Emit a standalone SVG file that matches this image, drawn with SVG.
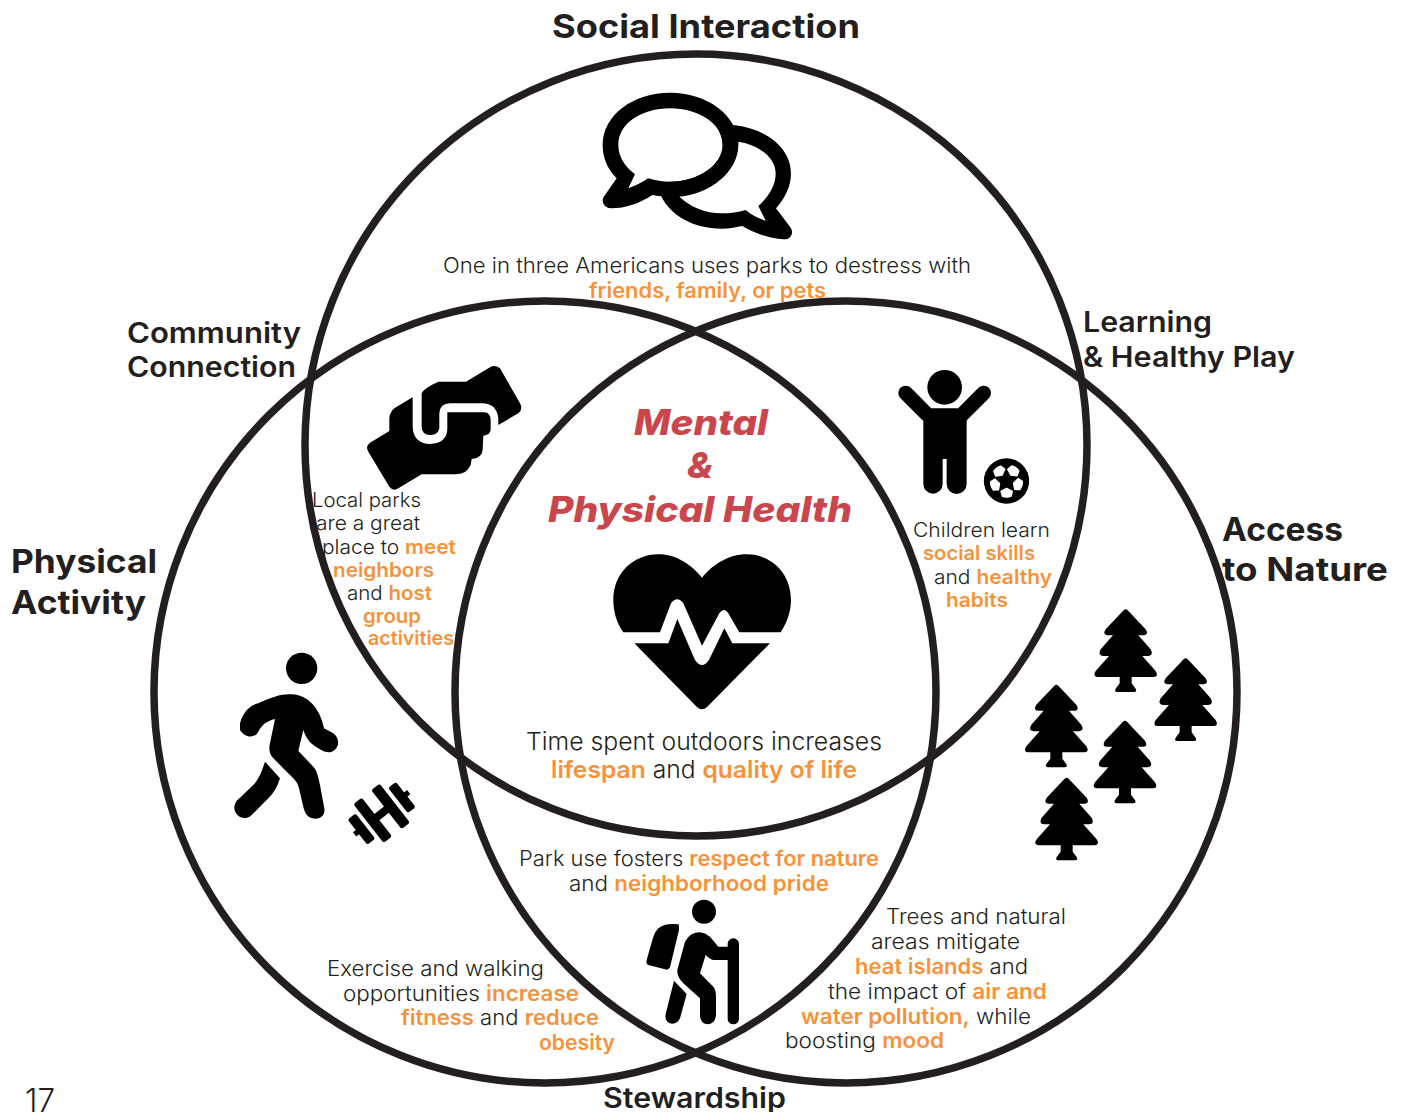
<svg xmlns="http://www.w3.org/2000/svg" width="1407" height="1112" viewBox="0 0 1407 1112">
<style>
text{font-family:"Inter","Liberation Sans",sans-serif;fill:#231f20;white-space:pre}
.b{font-size:20px;font-weight:300}
.m{font-size:21px;font-weight:300}
.c{font-size:24px;font-weight:300}
.t1{font-size:33px;font-weight:700}
.t2{font-size:28px;font-weight:600}
.o{fill:#f7923a;font-weight:600}
.h{font-size:35px;font-weight:800;font-style:italic;fill:#c9474c}
circle.ring{fill:none;stroke:#231f20;stroke-width:7.5}
.k{fill:#000}
.w{fill:#fff}
</style>
<defs>
<path id="tree" d="M-6,3Q0,-3 6,3L60,60Q70,76 55,78L38,78L75,120Q85,138 68,140L50,140L90,185Q100,201 85,203L18,203L18,222L30,238Q35,248 25,248L-25,248Q-35,248 -30,238L-18,222L-18,203L-85,203Q-100,201 -90,185L-50,140L-68,140Q-85,138 -75,120L-38,78L-55,78Q-70,76 -60,60Z"/>
<path id="panel" d="M-13,-46Q0,-51 13,-46L17,-31L0,-22L-17,-31Z" fill="#fff" stroke="#fff" stroke-width="4" stroke-linejoin="round"/>
</defs>
<rect width="1407" height="1112" fill="#fff"/>
<g id="connectors">
<circle class="ring" cx="696" cy="445" r="391"/>
<circle class="ring" cx="545" cy="692" r="391"/>
<circle class="ring" cx="846" cy="692" r="391"/>
</g>
<g id="social-interaction">
<text class="t1" x="552" y="38" textLength="308" lengthAdjust="spacingAndGlyphs">Social Interaction</text>
<g transform="translate(590,80) scale(.3333)">
<path class="k" d="M430,135C530,145 603,205 603,280C603,320 585,355 558,385L600,440C615,460 600,480 580,478C535,475 495,460 457,438C435,443 415,446 395,446C310,446 240,405 213,347L300,200Z"/>
<path class="w" d="M445,185C510,195 557,235 557,280C557,320 535,350 505,378L527,422C505,415 485,405 467,390C445,397 420,400 395,400C345,400 300,380 268,350C360,340 445,280 445,185Z"/>
<path class="w" d="M135,283C105,260 85,230 85,195C85,130 155,85 240,85C325,85 398,130 398,195C398,255 325,305 240,305C218,305 195,302 175,295C155,308 135,318 115,325Z"/>
<path class="k" fill-rule="evenodd" d="M80,295C50,265 38,230 38,195C38,105 130,38 240,38C350,38 445,105 445,195C445,280 350,350 240,350C222,350 205,348 187,345C150,370 105,385 65,385C40,385 30,360 45,345ZM135,283C105,260 85,230 85,195C85,130 155,85 240,85C325,85 398,130 398,195C398,255 325,305 240,305C218,305 195,302 175,295C155,308 135,318 115,325Z"/>
</g>
<text class="m" x="443" y="273" textLength="528" lengthAdjust="spacingAndGlyphs">One in three Americans uses parks to destress with</text>
<text class="m o" x="589" y="298" textLength="237" lengthAdjust="spacingAndGlyphs">friends, family, or pets</text>
</g>
<g id="community-connection">
<text class="t2" x="127" y="343" textLength="174" lengthAdjust="spacingAndGlyphs">Community</text>
<text class="t2" x="127" y="377" textLength="169" lengthAdjust="spacingAndGlyphs">Connection</text>
<g transform="translate(350,350) scale(.3333)">
<path class="k" d="M215,130Q220,115 265,95L348,95L420,52Q435,42 450,55L510,160Q520,178 505,190L445,225L445,205Q440,162 400,160L300,160Q270,160 268,190L268,235Q265,255 242,255Q215,255 215,230Z"/>
<path class="k" d="M188,142L188,230Q190,280 240,282Q292,280 292,235L292,187L405,187Q422,190 422,210L422,240Q420,255 400,257L398,300Q395,325 365,327L362,345Q350,372 320,373L215,373L145,415Q130,425 118,410L55,305Q45,290 60,278L118,243L118,205Q120,180 140,170Z"/>
</g>
<text class="b" x="312" y="507" textLength="109" lengthAdjust="spacingAndGlyphs">Local parks</text>
<text class="b" x="316" y="530" textLength="104" lengthAdjust="spacingAndGlyphs">are a great</text>
<text class="b" x="322" y="554" textLength="134" lengthAdjust="spacingAndGlyphs">place to <tspan class="o">meet</tspan></text>
<text class="b o" x="333" y="577" textLength="101" lengthAdjust="spacingAndGlyphs">neighbors</text>
<text class="b" x="347" y="600" textLength="85" lengthAdjust="spacingAndGlyphs">and <tspan class="o">host</tspan></text>
<text class="b o" x="363" y="623" textLength="58" lengthAdjust="spacingAndGlyphs">group</text>
<text class="b o" x="368" y="645" textLength="86" lengthAdjust="spacingAndGlyphs">activities</text>
</g>
<g id="learning-healthy-play">
<text class="t2" x="1083" y="332" textLength="129" lengthAdjust="spacingAndGlyphs">Learning</text>
<text class="t2" x="1083" y="367" textLength="212" lengthAdjust="spacingAndGlyphs">&amp; Healthy Play</text>
<g transform="translate(880,360) scale(.3333)">
<circle class="k" cx="194" cy="82" r="52"/>
<path d="M77,99L150,172M311,99L238,172" stroke="#000" stroke-width="44" stroke-linecap="round" fill="none"/>
<path class="k" d="M155,145L232,145L260,180L260,372A30,30 0 0 1 200,372L200,297L188,297L188,372A29,29 0 0 1 130,372L130,180Z"/>
</g>
<g transform="translate(1006.5,481) scale(.3333)">
<circle class="k" cx="0" cy="0" r="68"/>
<use href="#panel" transform="rotate(-37)"/>
<use href="#panel" transform="rotate(35)"/>
<use href="#panel" transform="rotate(107)"/>
<use href="#panel" transform="rotate(179)"/>
<use href="#panel" transform="rotate(251)"/>
</g>
<text class="b" x="913" y="537" textLength="137" lengthAdjust="spacingAndGlyphs">Children learn</text>
<text class="b o" x="923" y="560" textLength="112" lengthAdjust="spacingAndGlyphs">social skills</text>
<text class="b" x="934" y="584" textLength="118" lengthAdjust="spacingAndGlyphs">and <tspan class="o">healthy</tspan></text>
<text class="b o" x="946" y="607" textLength="62" lengthAdjust="spacingAndGlyphs">habits</text>
</g>
<g id="health">
<text class="h" x="634" y="435" textLength="134" lengthAdjust="spacingAndGlyphs">Mental</text>
<text class="h" x="687" y="478" textLength="26" lengthAdjust="spacingAndGlyphs">&amp;</text>
<text class="h" x="548" y="522" textLength="304" lengthAdjust="spacingAndGlyphs">Physical Health</text>
<g transform="translate(600,545) scale(.3333)">
<path class="k" d="M70,262C50,235 40,200 40,165C40,85 100,28 175,28C230,28 275,60 306,98C337,60 385,28 440,28C515,28 573,85 573,165C573,200 560,235 542,262L418,262L385,205Q372,185 358,205L306,302L250,175Q232,150 213,175L180,262Z"/>
<path class="k" d="M103,295L205,295L232,222L285,345Q306,375 327,345L373,250L397,295L510,295L322,485Q306,500 290,485Z"/>
</g>
<text class="c" x="526" y="750" textLength="356" lengthAdjust="spacingAndGlyphs">Time spent outdoors increases</text>
<text class="c" x="551" y="778" textLength="306" lengthAdjust="spacingAndGlyphs"><tspan class="o">lifespan</tspan> and <tspan class="o">quality of life</tspan></text>
</g>
<g id="physical-activity">
<text class="t1" x="11" y="573" textLength="146" lengthAdjust="spacingAndGlyphs">Physical</text>
<text class="t1" x="11" y="614" textLength="135" lengthAdjust="spacingAndGlyphs">Activity</text>
<g transform="translate(225,645) scale(.3333)">
<circle class="k" cx="230" cy="70" r="47"/>
<path class="k" d="M45,235C55,200 75,180 100,175C140,155 175,145 200,148C250,150 285,190 297,250L325,265C345,280 345,310 320,320C305,325 290,318 265,300C250,290 240,270 235,255L220,318L265,365C275,375 280,395 285,420L298,490C302,515 280,525 262,520C248,518 240,505 236,490L222,430C218,412 210,405 195,390L145,340C135,330 130,315 135,295L150,222C125,228 110,240 100,260C90,280 60,280 45,255Z"/>
<path class="k" d="M120,350L165,400C155,430 145,445 130,460L80,510C60,530 30,515 28,490C28,475 35,465 45,458L90,415C105,395 112,375 120,350Z"/>
<g class="k" transform="translate(470,505) rotate(-38)">
<rect x="-34" y="-12" width="68" height="24"/>
<rect x="-50" y="-74" width="32" height="148" rx="8"/>
<rect x="18" y="-74" width="32" height="148" rx="8"/>
<rect x="-92" y="-48" width="30" height="96" rx="8"/>
<rect x="62" y="-48" width="30" height="96" rx="8"/>
<rect x="-103" y="-8" width="14" height="16"/>
<rect x="89" y="-8" width="14" height="16"/>
</g>
</g>
<text class="m" x="327" y="976" textLength="217" lengthAdjust="spacingAndGlyphs">Exercise and walking</text>
<text class="m" x="343" y="1001" textLength="236" lengthAdjust="spacingAndGlyphs">opportunities <tspan class="o">increase</tspan></text>
<text class="m" x="401" y="1025" textLength="198" lengthAdjust="spacingAndGlyphs"><tspan class="o">fitness</tspan> and <tspan class="o">reduce</tspan></text>
<text class="m o" x="539" y="1050" textLength="76" lengthAdjust="spacingAndGlyphs">obesity</text>
</g>
<g id="access-to-nature">
<text class="t1" x="1222" y="541" textLength="121" lengthAdjust="spacingAndGlyphs">Access</text>
<text class="t1" x="1222" y="581" textLength="166" lengthAdjust="spacingAndGlyphs">to Nature</text>
<g class="k" transform="translate(1015,600) scale(.3333)">
<use href="#tree" x="332" y="28"/>
<use href="#tree" x="512" y="175"/>
<use href="#tree" x="124" y="254"/>
<use href="#tree" x="330" y="362"/>
<use href="#tree" x="155" y="533"/>
</g>
<text class="m" x="886" y="924" textLength="180" lengthAdjust="spacingAndGlyphs">Trees and natural</text>
<text class="m" x="871" y="949" textLength="149" lengthAdjust="spacingAndGlyphs">areas mitigate</text>
<text class="m" x="855" y="974" textLength="173" lengthAdjust="spacingAndGlyphs"><tspan class="o">heat islands</tspan> and</text>
<text class="m" x="828" y="999" textLength="219" lengthAdjust="spacingAndGlyphs">the impact of <tspan class="o">air and</tspan></text>
<text class="m" x="801" y="1024" textLength="230" lengthAdjust="spacingAndGlyphs"><tspan class="o">water pollution,</tspan> while</text>
<text class="m" x="785" y="1048" textLength="159" lengthAdjust="spacingAndGlyphs">boosting <tspan class="o">mood</tspan></text>
</g>
<g id="stewardship">
<text class="t2" x="603" y="1108" textLength="183" lengthAdjust="spacingAndGlyphs">Stewardship</text>
<g class="k" transform="translate(635,890) scale(.3333)">
<circle cx="207" cy="65" r="36"/>
<path d="M70,115Q90,98 130,103Q133,105 132,120L105,232Q100,242 90,238L40,225Q32,222 35,210L55,140Q60,125 70,115Z"/>
<path d="M150,155Q165,127 195,127Q210,128 225,140L250,170L285,170L285,210L235,210Q225,208 212,195L195,250L235,290Q243,300 243,320L243,375Q240,403 217,403Q195,400 195,375L195,325L145,280Q125,260 127,240Z"/>
<rect x="278" y="145" width="34" height="258" rx="17"/>
<path d="M117,272L155,312L135,385Q125,405 105,400Q88,392 92,372Z"/>
</g>
<text class="m" x="519" y="866" textLength="360" lengthAdjust="spacingAndGlyphs">Park use fosters <tspan class="o">respect for nature</tspan></text>
<text class="m" x="569" y="891" textLength="260" lengthAdjust="spacingAndGlyphs">and <tspan class="o">neighborhood pride</tspan></text>
</g>
<g id="page-number">
<text x="25" y="1112" font-size="32" font-weight="300" textLength="30" lengthAdjust="spacingAndGlyphs">17</text>
</g>
</svg>
